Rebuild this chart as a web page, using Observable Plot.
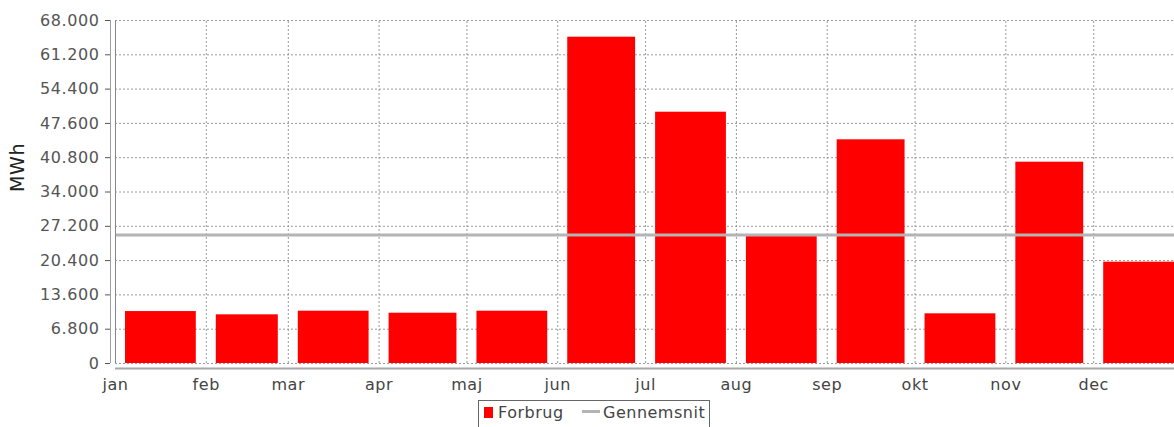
<!DOCTYPE html>
<html>
<head>
<meta charset="utf-8">
<script src="https://cdn.jsdelivr.net/npm/d3@7"></script>
<script src="https://cdn.jsdelivr.net/npm/@observablehq/plot@0.6"></script>
<style>
  html, body { margin: 0; padding: 0; background: #fff; overflow: hidden; }
  #chart { position: relative; width: 1174px; height: 427px; }
  #chart svg text { letter-spacing: 0.6px; }
  .legend {
    position: absolute; left: 478px; top: 400px; width: 232px; height: 32px;
    border: 1px solid #666; box-sizing: border-box; background: #fff;
    font-family: "DejaVu Sans", sans-serif; font-size: 16px; line-height: 16px; color: #444;
    letter-spacing: 0.5px;
  }
  .legend span { position: absolute; white-space: nowrap; }
  .legend .swatch { left: 5px; top: 6px; width: 9px; height: 11px; background: #ff0000; }
  .legend .line { left: 103px; top: 9px; width: 18px; height: 3px; background: #b4b4b4; }
</style>
</head>
<body>
<div id="chart"></div>
<script>
// Monthly consumption (MWh) for one year
const year = 2021;
const months = ["jan", "feb", "mar", "apr", "maj", "jun", "jul", "aug", "sep", "okt", "nov", "dec"];
const forbrug = [10300, 9650, 10370, 9970, 10370, 64690, 49820, 25380, 44350, 9850, 39910, 20090];
const gennemsnit = 25500;
const yTicks = [0, 6800, 13600, 20400, 27200, 34000, 40800, 47600, 54400, 61200, 68000];

const danish = d3.formatLocale({decimal: ",", thousands: ".", grouping: [3], currency: ["", " kr."]});
const fmt = danish.format(",d");

const monthStarts = months.map((_, i) => new Date(Date.UTC(year, i, 1)));
const bars = months.map((m, i) => ({
  start: new Date(Date.UTC(year, i, 1)),
  end: new Date(Date.UTC(year, i + 1, 1)),
  value: forbrug[i]
}));

const gridStyle = {stroke: "#9a9a9a", strokeWidth: 1, strokeDasharray: "2,2"};

const plot = Plot.plot({
  width: 1174,
  height: 398,
  marginLeft: 115,
  marginRight: 0,
  marginTop: 20,
  marginBottom: 35,
  style: {fontFamily: "DejaVu Sans, sans-serif", fontSize: "16px", background: "#fff"},
  x: {type: "utc", domain: [new Date(Date.UTC(year, 0, 1)), new Date(Date.UTC(year + 1, 0, 1))], range: [115, 1184]},
  y: {domain: [0, 68000]},
  marks: [
    Plot.ruleY(yTicks, gridStyle),
    Plot.ruleX(monthStarts, {x: d => d, y1: 0, y2: 68000, ...gridStyle}),
    Plot.rectY(bars, {x1: "start", x2: "end", y: "value", fill: "#ff0000", insetLeft: 10, insetRight: 10}),
    Plot.ruleY([gennemsnit], {stroke: "#b4b4b4", strokeWidth: 3}),
    Plot.ruleX([monthStarts[0]], {y1: 0, y2: 68000, stroke: "#888"}),
    Plot.ruleX([monthStarts[0]], {y1: 0, y2: 68000, dx: -5, stroke: "#a0a0a0"}),
    Plot.axisY(yTicks, {tickSize: 5, tickPadding: 6, dx: -5, tickFormat: fmt, label: null, color: "#555"}),
    Plot.ruleY([0], {dy: 5, stroke: "#a8a8a8", strokeWidth: 2}),
    Plot.axisX(monthStarts, {tickSize: 0, tickPadding: 15, tickFormat: d => months[d.getUTCMonth()], label: null, color: "#444"}),
    Plot.text(["MWh"], {frameAnchor: "left", dx: -98, rotate: -90, fontSize: 19, fill: "#222"})
  ]
});

const chart = document.getElementById("chart");
chart.appendChild(plot);

const legend = document.createElement("div");
legend.className = "legend";
legend.innerHTML = `
  <span class="swatch"></span>
  <span style="left:19px;top:4px">Forbrug</span>
  <span class="line"></span>
  <span style="left:124px;top:4px">Gennemsnit</span>`;
chart.appendChild(legend);
</script>
</body>
</html>
